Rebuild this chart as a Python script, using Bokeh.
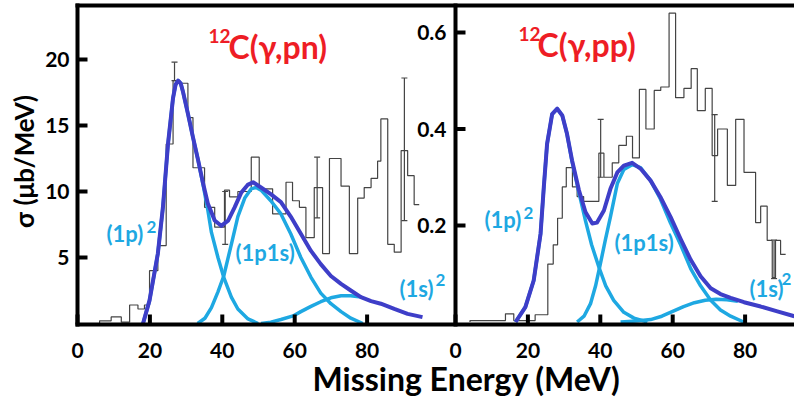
import math
from bokeh.plotting import figure
from bokeh.layouts import column
from bokeh.models import Range1d, Label
from bokeh.core.properties import value
from bokeh.embed import file_html
from bokeh.resources import INLINE

# ---------------- data: 12C(gamma,pn) (left panel) ----------------
pn_edges = [6.1, 9.3, 12.1, 14.4, 16.7, 18.5, 19.9, 22.2, 24.5, 26.4,
            28.2, 30.5, 31.9, 35.1, 37.9, 40.6, 42.0, 44.3, 48.0, 50.2,
            53.9, 57.6, 59.4, 61.3, 63.1, 65.4, 67.7, 69.6, 72.8, 75.1,
            77.4, 79.2, 81.1, 82.9, 83.8, 85.7, 87.5, 89.4, 91.2, 93.0, 94.4]
pn_vals = [0.2, 0.5, 0.1, 1.4, 1.1, 1.4, 4.0, 5.9, 13.6, 18.4,
           18.2, 15.6, 11.8, 8.8, 7.3, 10.1, 9.6, 10.0, 12.6, 10.2,
           8.3, 10.7, 9.3, 8.8, 6.5, 10.3, 5.3, 12.5, 10.4, 5.3,
           9.5, 10.3, 11.0, 12.3, 15.5, 6.0, 5.4, 13.1, 11.2, 9.0]
pn_err_E = [26.8, 40.8, 66.2, 90.3]
pn_err_lo = [18.4, 6.0, 8.0, 7.8]
pn_err_hi = [19.8, 10.0, 12.6, 18.6]

pn_tot_E = [18.1, 19.9, 22.2, 23.6, 25.0, 26.4, 27.1, 27.8, 28.5, 29.1, 30.5, 31.9, 33.3, 34.7,
            36.0, 37.9, 39.7, 41.6, 43.4, 45.2, 47.0, 48.5, 50.7, 53.4, 56.2, 58.9,
            61.7, 64.5, 67.2, 70.0, 72.8, 75.5, 78.3, 81.1, 83.8, 87.5, 91.2, 95.3]
pn_tot = [0.0, 1.75, 5.3, 8.8, 13.6, 17.1, 18.1, 18.4, 18.2, 17.6, 15.9, 14.1, 12.4, 10.6,
          9.1, 7.8, 7.4, 7.8, 8.8, 9.9, 10.5, 10.7, 10.3, 9.8, 9.2, 8.1,
          6.8, 5.5, 4.5, 3.6, 3.0, 2.5, 2.0, 1.7, 1.5, 1.1, 0.73, 0.48]
pn_1p_E = [18.1, 19.9, 22.2, 23.6, 25.0, 26.4, 27.1, 27.8, 28.5, 29.1, 30.5, 31.9, 33.3, 34.7,
           36.0, 37.0, 38.8, 40.4, 42.5, 44.3, 47.1, 49.9]
pn_1p = [0.0, 1.75, 5.3, 8.8, 13.6, 17.1, 18.1, 18.4, 18.2, 17.6, 15.9, 14.1, 12.4, 10.5,
         8.6, 6.9, 5.0, 3.5, 2.0, 1.1, 0.35, 0.0]
pn_1p1s_E = [33.2, 35.2, 37.0, 38.8, 40.4, 42.5, 44.3, 46.2, 48.0, 49.3, 50.7, 53.4,
             56.2, 58.9, 61.7, 64.5, 67.2, 70.0, 72.8, 75.5, 78.8]
pn_1p1s = [0.0, 0.4, 1.2, 2.4, 3.6, 6.0, 8.1, 9.5, 10.2, 10.3, 10.1, 9.3,
           8.3, 6.8, 5.0, 3.5, 2.3, 1.5, 0.9, 0.4, 0.0]
pn_1s_E = [50.7, 53.4, 56.2, 59.8, 61.7, 64.5, 67.2, 70.0, 72.8, 75.5, 78.3]
pn_1s = [0.0, 0.1, 0.3, 0.6, 0.9, 1.3, 1.65, 1.95, 2.1, 2.1, 2.0]

# ---------------- data: 12C(gamma,pp) (right panel) ----------------
pp_edges = [4.0, 13.8, 16.1, 22.0, 25.5, 27.0, 28.2, 29.5, 30.6, 32.3,
            33.6, 35.4, 37.3, 39.6, 41.0, 43.3, 45.1, 47.2, 48.9, 50.8,
            52.6, 54.9, 56.7, 59.0, 60.8, 63.1, 65.1, 66.8, 69.0, 70.9,
            72.4, 75.1, 77.4, 79.7, 82.9, 84.3, 86.1, 87.5, 88.4, 89.8, 91.2]
pp_vals = [0.003, 0.017, 0.003, 0.015, 0.12, 0.16, 0.215, 0.28, 0.32, 0.28,
           0.26, 0.25, 0.25, 0.35, 0.30, 0.33, 0.366, 0.385, 0.34, 0.482,
           0.40, 0.48, 0.487, 0.64, 0.465, 0.484, 0.525, 0.438, 0.484, 0.345,
           0.40, 0.283, 0.42, 0.31, 0.206, 0.24, 0.169, 0.092, 0.169, 0.14]
pp_err_E = [40.1, 71.6, 88.0]
pp_err_lo = [0.30, 0.25, 0.09]
pp_err_hi = [0.42, 0.43, 0.17]

pp_tot_E = [16.6, 19.3, 21.6, 23.5, 24.4, 25.3, 26.7, 28.1, 29.5, 30.8, 32.2, 34.1, 35.9,
            37.8, 39.1, 41.0, 42.8, 44.7, 46.5, 48.8, 51.1, 53.9, 56.6, 59.4, 62.2,
            64.9, 67.7, 70.5, 73.2, 76.0, 79.7, 84.3, 88.9, 93.6]
pp_tot = [0.0, 0.031, 0.086, 0.183, 0.28, 0.369, 0.431, 0.442, 0.428, 0.39, 0.335, 0.273, 0.228,
          0.204, 0.206, 0.231, 0.276, 0.31, 0.324, 0.33, 0.318, 0.293, 0.259, 0.218, 0.172,
          0.13, 0.095, 0.07, 0.058, 0.05, 0.041, 0.032, 0.022, 0.012]
pp_1p_E = [16.6, 19.3, 21.6, 23.5, 24.4, 25.3, 26.7, 28.1, 29.5, 30.8, 32.2, 34.1, 35.9,
           37.6, 39.6, 41.5, 43.7, 46.5, 49.3, 53.0]
pp_1p = [0.0, 0.031, 0.086, 0.183, 0.28, 0.369, 0.431, 0.442, 0.428, 0.39, 0.333, 0.268, 0.21,
         0.16, 0.114, 0.075, 0.045, 0.02, 0.008, 0.0]
pp_1p1s_E = [33.6, 35.5, 37.3, 38.7, 40.0, 41.4, 42.8, 44.7, 46.5, 48.8, 51.1, 53.9,
             56.6, 59.4, 62.2, 65.0, 67.7, 70.5, 73.2, 76.0, 79.6]
pp_1p1s = [0.0, 0.012, 0.038, 0.075, 0.12, 0.17, 0.218, 0.287, 0.316, 0.326, 0.32, 0.293,
           0.255, 0.205, 0.16, 0.11, 0.075, 0.045, 0.025, 0.012, 0.0]
pp_1s_E = [45.6, 50.0, 53.9, 57.0, 60.0, 63.0, 66.0, 69.0, 72.0, 75.0, 78.0]
pp_1s = [0.0, 0.002, 0.005, 0.012, 0.022, 0.032, 0.04, 0.045, 0.047, 0.046, 0.043]

x_ticks = [0, 20, 40, 60, 80]
pn_y_ticks = [5, 10, 15, 20]
pn_y_labels = ["5", "10", "15", "20"]
pp_y_ticks = [0.2, 0.4, 0.6]
pp_y_labels = ["0.2", "0.4", "0.6"]
y_title = ["σ (μb/MeV)"]
x_title = ["Missing Energy (MeV)"]

# ---------------- layout constants (pixels) ----------------
W, H = 794, 402
H1 = 330                         # plot figure height; the strip below holds x labels + title
FL, FT, FB = 77, 5, 324          # left axis x / top border y / bottom axis y
PXM = 3.62                       # px per MeV (both panels)
R0 = 455                         # px of E=0 in right panel
L_Y0, L_PY = 323, 13.2           # left: px of sigma=0, px per unit
R_Y0, R_PY = 321.5, 482.5        # right: px of sigma=0, px per unit
BASE_SHIFT = 0.33                # Bokeh places 'alphabetic' labels this many ems low
TICK = 10                        # tick length, px
AXW = 4                          # axis line width, px

def lx(px): return (px - FL) / PXM
def ly(py): return (L_Y0 - py) / L_PY
def rx(px): return (px - R0) / PXM
def ry(py): return (R_Y0 - py) / R_PY

DARK = "#3E3EC8"
LIGHT = "#1EA8E2"
RED = "#EE1D25"
FONT = "Lato"
R = dict(x_range_name="r", y_range_name="r")

# the frame is the whole figure; axes are drawn inside it
p = figure(width=W, height=H1, output_backend="svg", toolbar_location=None,
           x_axis_location=None, y_axis_location=None,
           x_range=Range1d(lx(0), lx(W)), y_range=Range1d(ly(H1), ly(0)), min_border=0)
p.extra_x_ranges = {"r": Range1d(rx(0), rx(W))}
p.extra_y_ranges = {"r": Range1d(ry(H1), ry(0))}
p.outline_line_color = None
p.grid.visible = False
p.background_fill_color = "white"
p.border_fill_color = "white"

def steps(edges, vals):
    xs, ys = [edges[0]], [0.0]
    for i, v in enumerate(vals):
        xs += [edges[i], edges[i + 1]]
        ys += [v, v]
    return xs, ys

HIST = "#444444"
# left histogram
hx, hy = steps(pn_edges, pn_vals)
p.line(hx, hy, line_color=HIST, line_width=1.2)
p.segment(x0=pn_err_E, x1=pn_err_E, y0=pn_err_lo, y1=pn_err_hi, line_color=HIST, line_width=1.2)
p.scatter(x=pn_err_E + pn_err_E, y=pn_err_lo + pn_err_hi, marker="dash", size=6,
          line_color=HIST, line_width=1.2)
# right histogram
hx, hy = steps(pp_edges, pp_vals)
p.line(hx, hy, line_color=HIST, line_width=1.2, **R)
p.segment(x0=pp_err_E, x1=pp_err_E, y0=pp_err_lo, y1=pp_err_hi, line_color=HIST,
          line_width=1.2, **R)
p.scatter(x=pp_err_E + pp_err_E, y=pp_err_lo + pp_err_hi, marker="dash", size=6,
          line_color=HIST, line_width=1.2, **R)

# fit components
for xs, ys in ((pn_1p_E, pn_1p), (pn_1p1s_E, pn_1p1s), (pn_1s_E, pn_1s)):
    p.line(xs, ys, line_color=LIGHT, line_width=3.5, line_join="round")
p.line(pn_tot_E, pn_tot, line_color=DARK, line_width=4, line_join="round")
for xs, ys in ((pp_1p_E, pp_1p), (pp_1p1s_E, pp_1p1s), (pp_1s_E, pp_1s)):
    p.line(xs, ys, line_color=LIGHT, line_width=3.5, line_join="round", **R)
p.line(pp_tot_E, pp_tot, line_color=DARK, line_width=4, line_join="round", **R)

# ---- axes, drawn from the tick arrays ----
half = AXW / 2
# bottom and top lines (full width)
p.segment(x0=[lx(FL - half)] * 2, x1=[lx(W)] * 2, y0=[ly(FB), ly(FT)], y1=[ly(FB), ly(FT)],
          line_color="black", line_width=AXW)
# left panel y axis
p.segment(x0=[0], x1=[0], y0=[ly(FB + half)], y1=[ly(FT - half)], line_color="black", line_width=AXW)
# right panel y axis
p.segment(x0=[0], x1=[0], y0=[ry(FB + half)], y1=[ry(FT - half)], line_color="black",
          line_width=AXW, **R)
# bottom ticks (both panels)
p.segment(x0=x_ticks, x1=x_ticks, y0=[ly(FB)] * len(x_ticks), y1=[ly(FB - TICK)] * len(x_ticks),
          line_color="black", line_width=AXW)
p.segment(x0=x_ticks, x1=x_ticks, y0=[ry(FB)] * len(x_ticks), y1=[ry(FB - TICK)] * len(x_ticks),
          line_color="black", line_width=AXW, **R)
# y ticks
p.segment(x0=[0] * len(pn_y_ticks), x1=[TICK / PXM] * len(pn_y_ticks), y0=pn_y_ticks,
          y1=pn_y_ticks, line_color="black", line_width=AXW)
p.segment(x0=[0] * len(pp_y_ticks), x1=[TICK / PXM] * len(pp_y_ticks), y0=pp_y_ticks,
          y1=pp_y_ticks, line_color="black", line_width=AXW, **R)
# y tick labels
tick_style = dict(text_align="right", text_baseline="middle", text_font=value(FONT),
                  text_font_style="bold", text_font_size="21px", text_color="black")
p.text(x=[0] * len(pn_y_ticks), y=pn_y_ticks, text=pn_y_labels, x_offset=-8, **tick_style)
p.text(x=[0] * len(pp_y_ticks), y=pp_y_ticks, text=pp_y_labels, x_offset=-9, **tick_style, **R)
# y title (rotated)
p.text(x=[lx(23)], y=[ly(161)], text=y_title, angle=math.pi / 2, text_align="center",
       text_baseline="middle", text_font=value(FONT), text_font_style="bold",
       text_font_size="26px", text_color="black")

def label(px, py, text, size, color, rng="default"):
    """px, py: pixel position of the left end of the text baseline."""
    py = py - BASE_SHIFT * size
    if rng == "r":
        kw = dict(x=rx(px), y=ry(py), **R)
    else:
        kw = dict(x=lx(px), y=ly(py))
    p.add_layout(Label(text=text, text_font=FONT, text_font_style="bold",
                       text_font_size=f"{size}px", text_color=color, text_align="left",
                       text_baseline="alphabetic", **kw))

# titles
label(208, 42, "12", 19, RED)
label(228, 57, "C(γ,pn)", 32, RED)
label(518, 40, "12", 19, RED, "r")
label(537, 55, "C(γ,pp)", 32, RED, "r")

# component labels
label(106, 240, "(1p)", 22, LIGHT)
label(146, 232, "2", 17, LIGHT)
label(235, 259, "(1p1s)", 22, LIGHT)
label(399, 295, "(1s)", 22, LIGHT)
label(435, 285, "2", 17, LIGHT)
label(484, 226, "(1p)", 22, LIGHT, "r")
label(523, 218, "2", 17, LIGHT, "r")
label(614, 249, "(1p1s)", 22, LIGHT, "r")
label(749, 295, "(1s)", 22, LIGHT, "r")
label(781, 284, "2", 17, LIGHT, "r")

# strip under the plot: x tick labels of both panels and the x title (page pixels)
H2 = H - H1
p2 = figure(width=W, height=H2, output_backend="svg", toolbar_location=None,
            x_axis_location=None, y_axis_location=None,
            x_range=Range1d(0, W), y_range=Range1d(H, H1), min_border=0)
p2.grid.visible = False
p2.outline_line_color = None
p2.background_fill_color = "white"
p2.border_fill_color = "white"
tick_px = [FL + t * PXM for t in x_ticks] + [R0 + t * PXM for t in x_ticks]
tick_txt = [str(t) for t in x_ticks] * 2
p2.text(x=tick_px, y=[349.5] * len(tick_px), text=tick_txt, text_align="center",
        text_baseline="middle", text_font=value(FONT), text_font_style="bold",
        text_font_size="21px", text_color="black")
p2.text(x=[466], y=[378], text=x_title, text_align="center",
        text_baseline="middle", text_font=value(FONT), text_font_style="bold",
        text_font_size="32px", text_color="black")

open("out.html", "w").write(file_html(column(p, p2, spacing=0), INLINE))
